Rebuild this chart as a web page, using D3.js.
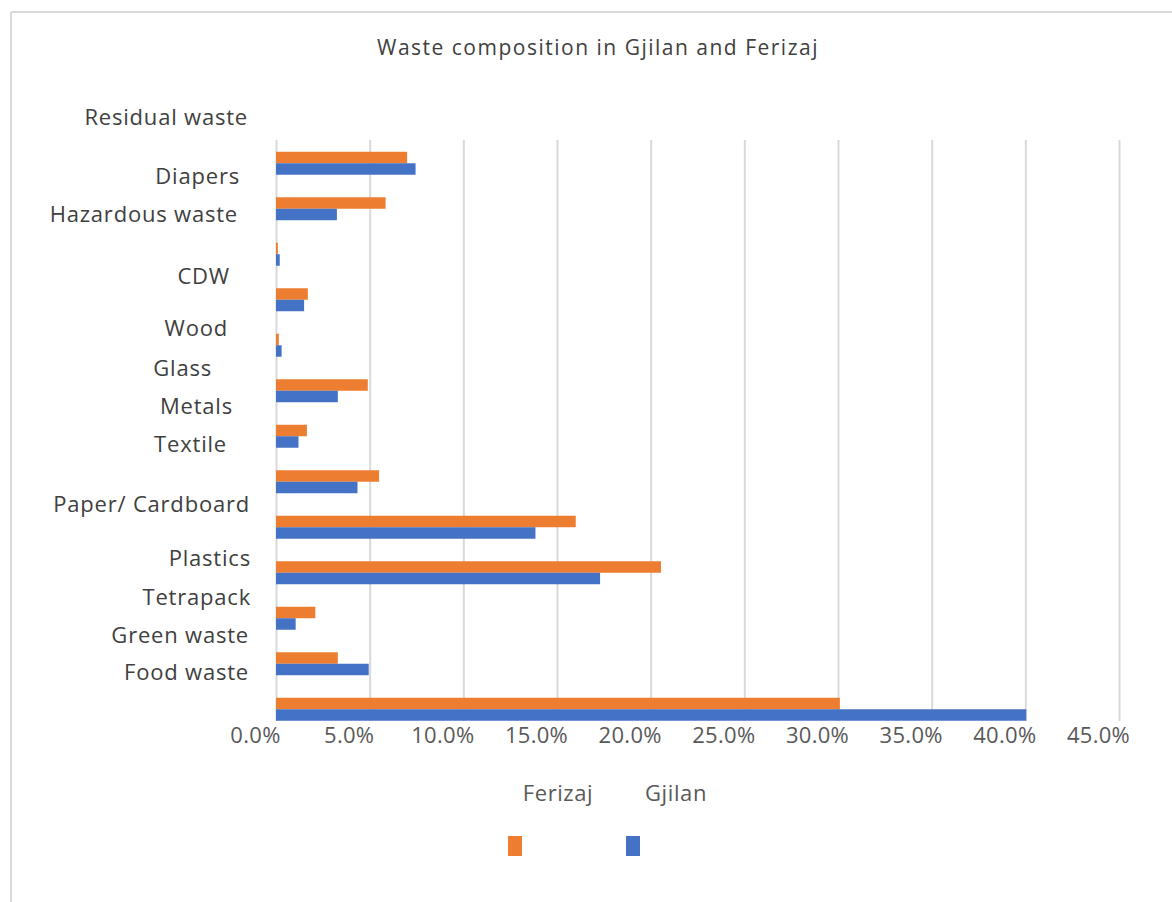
<!DOCTYPE html>
<html lang="en">
<head>
<meta charset="utf-8">
<title>Waste composition in Gjilan and Ferizaj</title>
<script src="https://d3js.org/d3.v7.min.js"></script>
<style>
  body { margin: 0; background: #fff; }
  .grid line { stroke: #d9d9d9; stroke-width: 2px; }
  .grid path { display: none; }
  .axis path, .axis line { display: none; }
  .axis text { font-family: "Open Sans", sans-serif; font-size: 22px; letter-spacing: 0.3px; fill: #595959; }
  .cat { font-family: "Open Sans", sans-serif; font-size: 22px; letter-spacing: 0.8px; fill: #404040; }
</style>
</head>
<body>
<div id="chart"></div>
<script>
// categories top to bottom, as printed in the picture
var categories = ["Residual waste", "Diapers", "Hazardous waste", "CDW", "Wood", "Glass",
  "Metals", "Textile", "Paper/ Cardboard", "Plastics", "Tetrapack", "Green waste", "Food waste"]
var ferizaj = [7.0, 5.85, 0.1, 1.7, 0.15, 4.9, 1.65, 5.5, 16.0, 20.55, 2.1, 3.3, 30.1]
var gjilan = [7.45, 3.25, 0.2, 1.5, 0.3, 3.3, 1.2, 4.35, 13.85, 17.3, 1.05, 4.95, 40.05]
var ticks = [0, 5, 10, 15, 20, 25, 30, 35, 40, 45]
var seriesNames = ["Ferizaj", "Gjilan"]

// the labels in the source sit off their bars, so they get their own layout
var labelY = [117, 176, 214, 276, 328, 368, 406, 444, 504, 558, 597, 635, 672]
var labelRight = [248, 240, 238, 230, 228, 212, 233, 227, 250, 251, 251, 249, 249]

var w = 1172
var h = 902
var colors = ["#ED7D31", "#4472C4"]

var svg = d3.select("#chart").append("svg")
  .attr("width", w)
  .attr("height", h)

// frame
svg.append("line").attr("x1", 11).attr("x2", w).attr("y1", 12).attr("y2", 12)
  .attr("stroke", "#d9d9d9").attr("stroke-width", 2)
svg.append("line").attr("x1", 11).attr("x2", 11).attr("y1", 12).attr("y2", h)
  .attr("stroke", "#d9d9d9").attr("stroke-width", 2)

var xScale = d3.scaleLinear().domain([0, 45]).range([276, 1119])

var yScale = d3.scaleBand()
  .domain(categories)
  .range([140.5, 732])
  .paddingInner(0.495)
  .paddingOuter(0.2475)

var inner = d3.scaleBand().domain(seriesNames).range([0, yScale.bandwidth()])

// gridlines
svg.append("g")
  .attr("class", "grid")
  .attr("transform", "translate(0,721)")
  .call(d3.axisBottom(xScale).tickValues(ticks).tickSize(-581).tickFormat(""))

// bars
var rows = categories.map(function(c, i) {
  return { cat: c, vals: [ferizaj[i], gjilan[i]] }
})

var g = svg.selectAll("g.row")
  .data(rows)
  .enter()
  .append("g")
  .attr("class", "row")
  .attr("transform", function(d) { return "translate(0," + yScale(d.cat) + ")" })

g.selectAll("rect")
  .data(function(d) { return d.vals })
  .enter()
  .append("rect")
  .attr("x", xScale(0))
  .attr("y", function(d, i) { return inner(seriesNames[i]) })
  .attr("height", inner.bandwidth())
  .attr("width", function(d) { return xScale(d) - xScale(0) })
  .style("fill", function(d, i) { return colors[i] })

// x axis labels
svg.append("g")
  .attr("class", "axis")
  .attr("transform", "translate(0,719)")
  .call(d3.axisBottom(xScale).tickValues(ticks).tickSize(0)
    .tickFormat(function(d) { return d.toFixed(1) + "%" }))
  .selectAll("text")
  .attr("dx", -21)
  .attr("dy", "0.95em")

// category labels
svg.selectAll("text.cat")
  .data(categories)
  .enter()
  .append("text")
  .attr("class", "cat")
  .attr("x", function(d, i) { return labelRight[i] })
  .attr("y", function(d, i) { return labelY[i] })
  .attr("dy", "0.35em")
  .attr("text-anchor", "end")
  .text(function(d) { return d })

// title
svg.append("text")
  .attr("x", 598)
  .attr("y", 55)
  .attr("text-anchor", "middle")
  .style("font-family", "Open Sans, sans-serif")
  .style("font-size", "21px")
  .style("letter-spacing", "1.5px")
  .style("fill", "#404040")
  .text("Waste composition  in Gjilan and Ferizaj")

// legend
var legX = [515, 633]
var leg = svg.selectAll("g.leg")
  .data(seriesNames)
  .enter()
  .append("g")
  .attr("class", "leg")

leg.append("text")
  .attr("x", function(d, i) { return legX[i] + 43 })
  .attr("y", 801)
  .attr("text-anchor", "middle")
  .style("font-family", "Open Sans, sans-serif")
  .style("font-size", "22px")
  .style("letter-spacing", "0.6px")
  .style("fill", "#595959")
  .text(function(d) { return d })

leg.append("rect")
  .attr("x", function(d, i) { return legX[i] - 7 })
  .attr("y", 836)
  .attr("width", 14)
  .attr("height", 20)
  .style("fill", function(d, i) { return colors[i] })
</script>
</body>
</html>
